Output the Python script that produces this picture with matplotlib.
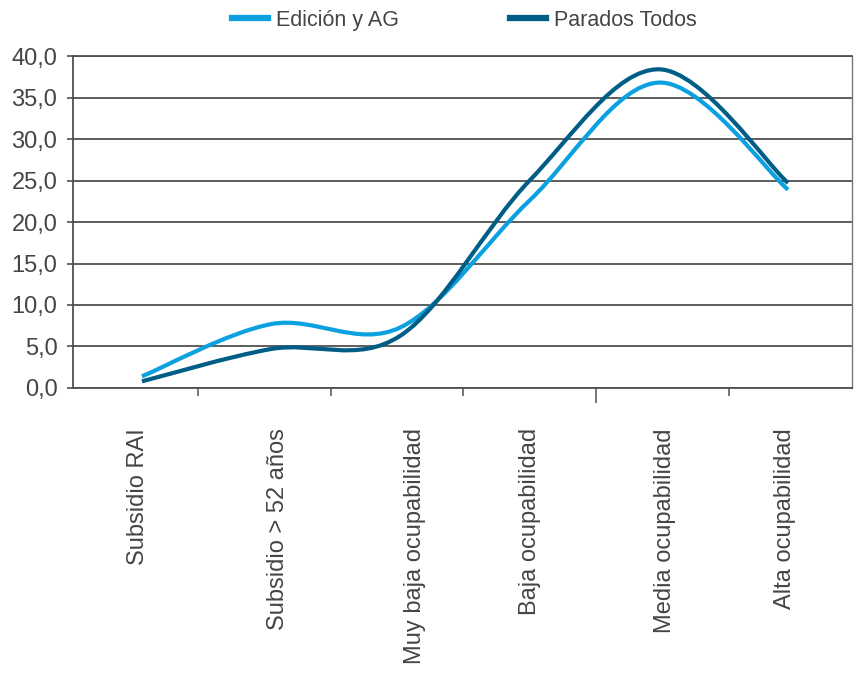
import numpy as np
import matplotlib.pyplot as plt
from matplotlib.path import Path
from matplotlib.patches import PathPatch
from matplotlib.lines import Line2D
from matplotlib.ticker import FuncFormatter

plt.rcParams['font.family'] = ['Liberation Sans', 'DejaVu Sans']

# Data
categories = ['Subsidio RAI', 'Subsidio > 52 años', 'Muy baja ocupabilidad',
              'Baja ocupabilidad', 'Media ocupabilidad', 'Alta ocupabilidad']
edicion = [1.4, 7.7, 7.3, 22.6, 36.8, 23.9]
parados = [0.8, 4.7, 6.3, 25.0, 38.4, 24.7]
series_names = ['Edición y AG', 'Parados Todos']
y_ticks = [0, 5, 10, 15, 20, 25, 30, 35, 40]

LIGHT = '#0ba0e0'
DARK = '#005d86'
GRID = '#505050'
TXT = '#454545'


def smooth_path(xs, ys):
    # Catmull-Rom style bezier (like spreadsheet "smoothed line")
    pts = np.column_stack([xs, ys]).astype(float)
    n = len(pts)
    verts = [pts[0]]
    codes = [Path.MOVETO]
    for i in range(n - 1):
        p0 = pts[i - 1] if i > 0 else pts[i]
        p1 = pts[i]
        p2 = pts[i + 1]
        p3 = pts[i + 2] if i + 2 < n else pts[i + 1]
        c1 = p1 + (p2 - p0) / 6.0
        c2 = p2 - (p3 - p1) / 6.0
        verts += [c1, c2, p2]
        codes += [Path.CURVE4] * 3
    return Path(verts, codes)


fig = plt.figure(figsize=(8.55, 6.75), dpi=100)
ax = fig.add_axes([0.085, 0.4252, 0.9115, 0.4918])

x = np.arange(len(categories))
for vals, col in [(edicion, LIGHT), (parados, DARK)]:
    patch = PathPatch(smooth_path(x, vals), facecolor='none', edgecolor=col,
                      linewidth=3.0, capstyle='butt', joinstyle='round')
    ax.add_patch(patch)

ax.set_xlim(-0.536, 5.495)
ax.set_ylim(0, 40)

# y axis
ax.set_yticks(y_ticks)
ax.yaxis.set_major_formatter(FuncFormatter(lambda v, p: f'{v:.1f}'.replace('.', ',')))
ax.grid(axis='y', color=GRID, linewidth=1.3)
ax.set_axisbelow(True)
ax.tick_params(axis='y', direction='out', length=4.5, width=1.2, color=GRID,
               labelsize=17, labelcolor=TXT, pad=6.5)

# x axis: boundary ticks (major) and category labels (minor)
bounds = [0.433, 1.463, 2.485, 3.514, 4.543]
label_pos = [-0.03, 1.05, 2.11, 3.0, 4.05, 4.98]
ax.set_xticks(bounds)
ax.set_xticklabels([''] * len(bounds))
ax.tick_params(axis='x', which='major', direction='out', length=6, width=1.1, color=GRID)
ax.set_xticks(label_pos, minor=True)
ax.set_xticklabels(categories, minor=True, rotation=90, fontsize=17, color=TXT)
ax.tick_params(axis='x', which='minor', length=0, pad=29)
ax.xaxis.get_major_ticks()[3].tick1line.set_markersize(11)

for side in ['left', 'bottom', 'top']:
    ax.spines[side].set_color(GRID)
    ax.spines[side].set_linewidth(1.3)
ax.spines['right'].set_color('#7a7a7a')
ax.spines['right'].set_linewidth(1.0)

handles = [Line2D([], [], color=LIGHT, linewidth=4.5),
           Line2D([], [], color=DARK, linewidth=4.5)]
leg = fig.legend(handles, series_names, loc='center', bbox_to_anchor=(0.543, 0.97),
                 ncol=2, frameon=False, fontsize=15.5, handlelength=1.67,
                 handletextpad=0.35, columnspacing=5.17)
for t in leg.get_texts():
    t.set_color(TXT)

fig.savefig('out.png', dpi=100)
